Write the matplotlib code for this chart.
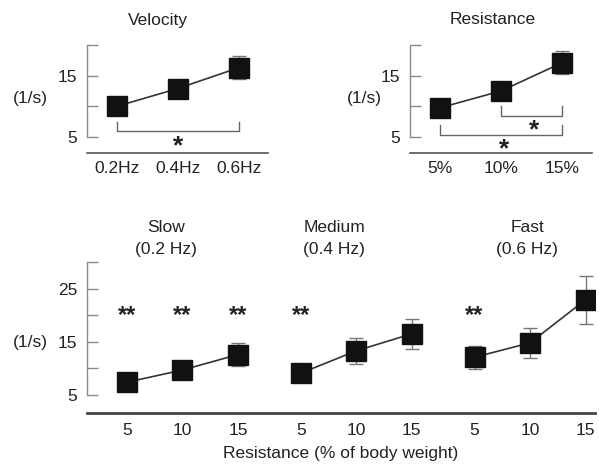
import matplotlib
matplotlib.use("Agg")
import matplotlib.pyplot as plt
import matplotlib.transforms as mtransforms
import numpy as np

plt.rcParams['font.family'] = ['Liberation Sans', 'DejaVu Sans']

# --- data -------------------------------------------------------------
vel_labels = ["0.2Hz", "0.4Hz", "0.6Hz"]
vel_mean = [10.0, 12.9, 16.3]
vel_err = [1.0, 1.0, 1.9]

res_labels = ["5%", "10%", "15%"]
res_mean = [9.75, 12.5, 17.1]
res_err = [1.0, 1.0, 1.85]

group_titles = ["Slow\n(0.2 Hz)", "Medium\n(0.4 Hz)", "Fast\n(0.6 Hz)"]
resist_labels = ["5", "10", "15"]
slow_mean = [7.4, 9.7, 12.6]
slow_err = [1.0, 1.0, 2.2]
medium_mean = [9.1, 13.3, 16.5]
medium_err = [1.0, 2.4, 2.85]
fast_mean = [12.1, 14.8, 22.9]
fast_err = [2.15, 2.8, 4.5]
# "**" marks per group (True where a marker is drawn)
slow_sig = [True, True, True]
medium_sig = [True, False, False]
fast_sig = [True, False, False]

# significance brackets for the top panels: (x_start, x_end, y_bar, y_tip, star_x, star_y)
vel_brackets = [(0, 2, 6.0, 7.5, 1.0, 3.55)]
res_brackets = [(1, 2, 8.45, 10.1, 1.55, 6.1), (0, 2, 5.35, 7.0, 1.05, 3.05)]

# --- style ------------------------------------------------------------
W, H = 599, 466
TXT = "#222222"
SPINE = "#8a8a8a"
MARK = "#111111"
LINE = "#333333"
ERR = "#777777"
FS = 12.5

fig = plt.figure(figsize=(W / 100, H / 100), dpi=100)


def px_axes(left, top, right, bottom):
    return fig.add_axes([left / W, 1 - bottom / H, (right - left) / W, (bottom - top) / H])


def style_axes(ax, yticks, ylabels, ylo, yhi, xlw, xcolor):
    for s in ("top", "right"):
        ax.spines[s].set_visible(False)
    ax.spines["left"].set_color(SPINE)
    ax.spines["left"].set_linewidth(1.0)
    ax.spines["left"].set_bounds(ylo, yhi)
    ax.spines["bottom"].set_color(xcolor)
    ax.spines["bottom"].set_linewidth(xlw)
    ax.set_yticks(yticks)
    ax.set_yticklabels(ylabels)
    ax.tick_params(axis="y", direction="in", length=8, width=1.0, color=SPINE,
                   pad=7, labelsize=FS, labelcolor=TXT)
    ax.tick_params(axis="x", length=0, pad=6, labelsize=FS, labelcolor=TXT)
    ax.patch.set_visible(False)


def draw_series(ax, xs, mean, err):
    ax.errorbar(xs, mean, yerr=err, fmt="none", ecolor=ERR, elinewidth=1.0,
                capsize=5, capthick=1.0, zorder=2)
    ax.plot(xs, mean, color=LINE, lw=1.2, zorder=3)
    ax.plot(xs, mean, "s", ms=14.5, color=MARK, mec=MARK, zorder=4)


def draw_brackets(ax, brackets):
    for x0, x1, yb, yt, sx, sy in brackets:
        ax.plot([x0, x0, x1, x1], [yt, yb, yb, yt], color="#666666", lw=1.0,
                zorder=1, clip_on=False)
        ax.text(sx, sy, "*", ha="center", va="center", fontsize=19,
                color=TXT, fontweight="bold")


# --- top-left: velocity -------------------------------------------------
ax1 = px_axes(87, 40, 268, 153)
x3 = np.arange(3)
draw_series(ax1, x3, vel_mean, vel_err)
draw_brackets(ax1, vel_brackets)
ax1.set_xlim(-0.49, 2.48)
ax1.set_ylim(5 - 16 / 6.1, 20 + 5 / 6.1)
style_axes(ax1, [5, 10, 15, 20], ["5", "", "15", ""], 5, 20, 1.2, "#555555")
ax1.set_xticks(x3)
ax1.set_xticklabels(vel_labels)

# --- top-right: resistance ----------------------------------------------
ax2 = px_axes(410, 40, 592, 153)
draw_series(ax2, x3, res_mean, res_err)
draw_brackets(ax2, res_brackets)
ax2.set_xlim(-0.49, 2.49)
ax2.set_ylim(5 - 16 / 6.1, 20 + 5 / 6.1)
style_axes(ax2, [5, 10, 15, 20], ["5", "", "15", ""], 5, 20, 1.2, "#555555")
ax2.set_xticks(x3)
ax2.set_xticklabels(res_labels)

# --- bottom: speed x resistance ------------------------------------------
ax3 = px_axes(87, 255, 595, 413)
groups = [(slow_mean, slow_err, slow_sig), (medium_mean, medium_err, medium_sig),
          (fast_mean, fast_err, fast_sig)]
gap = 3.13
title_tf = mtransforms.blended_transform_factory(ax3.transData, fig.transFigure)
all_x, all_lab = [], []
for g, (m, e, sig) in enumerate(groups):
    xs = g * gap + np.arange(3)
    draw_series(ax3, xs, m, e)
    for xi, s in zip(xs, sig):
        if s:
            ax3.text(xi, 20.0, "**", ha="center", va="center", fontsize=17,
                     color=TXT, fontweight="bold")
    ax3.text(g * gap + [0.7, 0.6, 0.95][g], 1 - 220 / H, group_titles[g],
             transform=title_tf, ha="center", va="top", fontsize=FS,
             color=TXT, linespacing=1.55)
    all_x.extend(xs)
    all_lab.extend(resist_labels)
ax3.set_xlim(-0.72, 8.43)
ax3.set_ylim(5 - 18 / 5.32, 30 + 7 / 5.32)
style_axes(ax3, [5, 10, 15, 20, 25, 30], ["5", "", "15", "", "25", ""], 5, 30, 2.0, "#444444")
ax3.set_xticks(all_x)
ax3.set_xticklabels(all_lab)
shift = mtransforms.ScaledTranslation(-6 / 100, 0, fig.dpi_scale_trans)
for lab in ax3.get_xticklabels():
    lab.set_transform(lab.get_transform() + shift)
ax3.tick_params(axis="x", pad=7)
ax3.set_xlabel("Resistance (% of body weight)", fontsize=FS, color=TXT, labelpad=6)

# --- titles and unit labels ---------------------------------------------
fig.text(158 / W, 1 - 20 / H, "Velocity", ha="center", va="center", fontsize=FS, color=TXT)
fig.text(493 / W, 1 - 20 / H, "Resistance", ha="center", va="center", fontsize=FS, color=TXT)
fig.text(30 / W, 1 - 98 / H, "(1/s)", ha="center", va="center", fontsize=FS, color=TXT)
fig.text(364 / W, 1 - 98 / H, "(1/s)", ha="center", va="center", fontsize=FS, color=TXT)
fig.text(30 / W, 1 - 342 / H, "(1/s)", ha="center", va="center", fontsize=FS, color=TXT)

fig.savefig("out.png", dpi=100, facecolor="white")
